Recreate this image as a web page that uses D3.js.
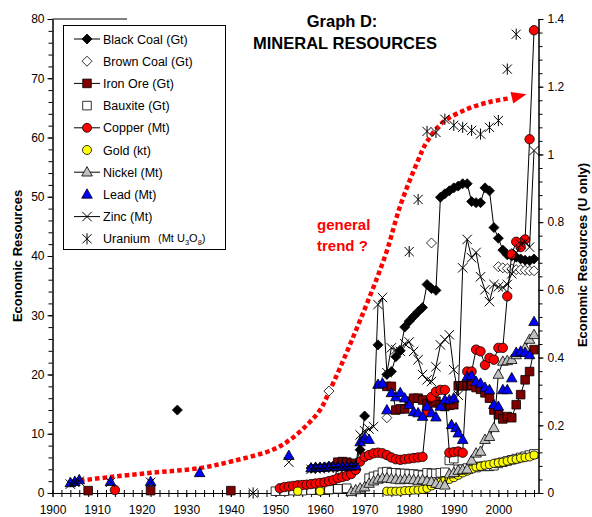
<!DOCTYPE html>
<html><head><meta charset="utf-8">
<script src="https://cdn.jsdelivr.net/npm/d3@7"></script>
<style>
html,body{margin:0;padding:0;background:#fff;}
svg text{font-family:Arial,"Liberation Sans",sans-serif;}
</style></head>
<body>
<svg id="chart" width="592" height="517"></svg>
<script>
// ---------------- DATA ----------------
const xTickLabels = [1900,1910,1920,1930,1940,1950,1960,1970,1980,1990,2000];
const yLeftTicks = [0,10,20,30,40,50,60,70,80];
const yRightTicks = [0,0.2,0.4,0.6,0.8,1,1.2,1.4];

const blackCoal = [[1928,14],
 [1958,4.2],[1959,4.3],[1960,4.3],[1961,4.4],[1962,4.5],[1963,4.6],[1964,4.7],[1965,4.8],[1966,4.8],[1967,4.9],[1968,5.0],
 [1969,7.3],[1970,13.0],[1973,25.0],
 [1975,20.0],[1976,20.5],[1977,23.0],[1978,24.0],[1979,28.0],[1980,29.0],[1981,29.8],[1982,30.6],[1983,31.3],
 [1984,35.2],[1985,34.5],[1986,34.2],[1987,49.9],[1988,50.5],[1989,51.0],[1990,51.5],[1991,51.8],[1992,52.2],[1993,52.2],
 [1994,49.2],[1995,49.0],[1996,49.0],[1997,51.5],[1998,51.0],[1999,44.8],[2000,43.0],[2001,41.0],[2002,40.2],
 [2003,40.0],[2004,39.8],[2005,39.5],[2006,39.3],[2007,39.2],[2008,39.5]];

const brownCoal = [[1962,17.2],[1975,12.7],[1985,42.2],
 [2000,38.2],[2001,38.0],[2002,37.9],[2003,37.8],[2004,37.7],[2005,37.7],[2006,37.6],[2007,37.5],[2008,37.5]];

const ironOre = [[1908,0.4],[1922,0.4],[1940,0.4],
 [1959,0.5],[1960,0.5],[1961,0.5],[1962,0.6],[1963,0.7],[1964,5.2],[1965,5.3],[1966,5.2],[1967,5.0],
 [1975,18.0],[1976,18.0],[1977,14.0],[1978,14.2],[1979,14.2],[1980,15.5],[1981,16.0],[1982,16.0],[1983,15.7],
 [1984,15.0],[1985,15.2],[1986,15.5],[1987,14.9],[1988,14.6],[1989,14.8],[1990,14.9],[1991,18.1],[1992,18.1],
 [1993,18.1],[1994,18.2],[1995,17.8],[1996,17.5],[1997,16.9],[1998,16.0],[1999,14.0],[2000,13.2],[2001,12.5],
 [2002,12.9],[2003,12.7],[2004,14.9],[2005,16.6],[2006,19.1],[2007,20.5],[2008,24.2]];

const bauxite = [[1950,0.3],[1952,0.3],[1954,0.4],[1956,0.4],[1958,0.5],[1960,0.5],[1962,0.6],[1964,0.7],[1966,0.8],
 [1971,2.5],[1972,2.8],[1973,3.0],[1974,3.5],[1975,3.6],[1976,3.4],[1977,3.4],[1978,3.3],[1979,3.3],[1980,3.2],
 [1981,3.2],[1982,3.1],[1983,3.0],[1984,3.4],[1985,3.3],[1986,3.3],[1987,3.4],[1988,3.5],[1989,5.5],[1990,5.8],
 [1991,4.0],[1992,4.0],[1993,4.2],[1994,4.3],[1995,4.3],[1996,4.5],[1997,4.5],[1998,4.5],[1999,4.6],[2000,5.0],
 [2001,5.2],[2002,5.4],[2003,5.6],[2004,5.8],[2005,6.0],[2006,6.2],[2007,6.4],[2008,6.6]];

const copper = [[1914,0.5],
 [1951,0.8],[1952,1.0],[1953,1.1],[1954,1.2],[1955,1.3],[1956,1.35],[1957,1.4],[1958,1.5],[1959,1.6],[1960,1.7],
 [1961,1.8],[1962,2.0],[1963,2.2],[1964,2.5],[1965,2.7],[1966,2.9],[1967,3.2],[1968,3.9],[1969,5.3],[1970,6.1],
 [1971,6.4],[1972,6.7],[1973,6.8],[1974,6.7],[1975,6.4],[1976,6.0],[1977,5.7],[1978,5.6],[1979,5.7],[1980,5.8],
 [1981,5.9],[1982,6.0],[1983,6.1],[1984,13.7],[1985,16.2],[1986,17.1],[1987,17.4],[1988,17.4],[1989,6.8],
 [1990,6.9],[1991,7.0],[1992,6.8],[1993,20.5],[1994,20.5],[1995,24.2],[1996,23.9],[1997,21.6],[1998,22.8],
 [1999,22.5],[2000,24.5],[2001,24.5],[2002,33.2],[2003,40.3],[2004,42.4],[2005,41.5],[2006,42.8],[2007,59.7],[2008,78.1]];

const gold = [[1955,0.3],[1960,0.3],[1975,0.3],[1976,0.3],[1977,0.3],[1978,0.3],[1979,0.4],[1980,0.4],[1981,0.5],
 [1982,0.5],[1983,0.6],[1984,0.8],[1985,1.2],[1986,1.5],[1987,1.8],[1988,2.1],[1989,2.3],[1990,2.6],[1991,3.0],
 [1992,3.4],[1993,3.7],[1994,4.0],[1995,4.4],[1996,4.5],[1997,4.7],[1998,4.8],[1999,5.0],[2000,5.1],[2001,5.2],
 [2002,5.4],[2003,5.6],[2004,5.7],[2005,5.9],[2006,6.0],[2007,6.1],[2008,6.4]];

const nickel = [[1967,0.2],[1968,0.5],[1969,0.8],[1970,1.0],[1971,1.6],[1972,2.0],[1973,2.3],[1974,2.5],[1975,2.5],
 [1976,2.4],[1977,2.3],[1978,2.2],[1979,2.3],[1980,2.3],[1981,2.2],[1982,2.1],[1983,2.2],[1984,2.0],[1985,1.9],
 [1986,1.6],[1987,1.4],[1988,1.3],[1989,3.2],[1990,3.4],[1991,3.8],[1992,3.9],[1993,4.0],[1994,5.5],[1995,6.7],
 [1996,7.0],[1997,9.0],[1998,9.5],[1999,11.0],[2000,20.0],[2001,22.2],[2002,22.3],[2003,22.5],[2004,23.3],
 [2005,23.7],[2006,24.5],[2007,25.9],[2008,26.7]];

const lead = [[1904,1.7],[1905,1.9],[1906,2.2],[1913,1.9],[1922,1.9],[1933,3.4],[1953,6.3],
 [1958,4.2],[1959,4.3],[1960,4.3],[1961,4.3],[1962,4.4],[1963,4.4],[1964,4.4],[1965,4.5],[1966,4.4],[1967,4.5],[1968,4.6],
 [1969,8.6],[1970,9.3],[1971,9.0],[1973,18.3],[1974,18.5],[1975,14.0],[1976,16.9],[1977,16.2],[1978,16.9],
 [1979,16.0],[1980,14.9],[1981,13.7],[1982,13.5],[1983,12.9],[1984,14.6],[1985,13.5],[1986,12.8],[1987,14.6],
 [1988,15.7],[1989,15.7],[1990,16.0],[1989.5,11.5],[1990.5,11.0],[1991,10.1],[1992,9.0],[1993,19.6],[1994,19.8],
 [1995,18.8],[1996,18.5],[1997,17.8],[1998,17.4],[1999,14.9],[2000,14.6],[2001,17.4],[2002,17.4],[2003,19.4],
 [2004,23.7],[2005,23.9],[2006,23.7],[2007,23.3],[2008,28.9]];

const zinc = [[1904,1.5],[1905,1.8],[1906,2.0],[1913,1.8],[1922,1.8],[1953,5.2],
 [1958,4.0],[1959,4.1],[1960,4.1],[1961,4.2],[1962,4.2],[1963,4.3],[1964,4.3],[1965,4.4],[1966,4.4],[1967,4.5],[1968,4.5],
 [1969,9.8],[1970,10.5],[1971,10.8],[1972,11.2],[1973,31.8],[1974,33.0],[1975,20.3],[1976,24.5],[1977,24.2],
 [1978,23.9],[1979,25.2],[1980,25.5],[1981,23.9],[1982,22.5],[1983,20.0],[1984,19.1],[1985,18.8],[1986,21.3],
 [1987,25.0],[1988,25.9],[1989,26.7],[1990,20.8],[1991,16.5],[1992,38.0],[1993,42.8],[1994,39.7],[1995,40.6],
 [1996,36.5],[1997,34.3],[1998,32.3],[1999,35.2],[2000,34.8],[2001,34.7],[2002,35.2],[2003,37.0],[2004,40.5],
 [2005,42.0],[2006,42.4],[2007,41.5],[2008,57.8]];

// Uranium on right axis (Mt U3O8)
const uranium = [[1945,0],[1980,0.713],[1982,0.867],[1984,1.068],[1986,1.065],[1988,1.104],[1990,1.086],
 [1992,1.080],[1994,1.071],[1996,1.060],[1998,1.080],[2000,1.100],[2002,1.252],[2004,1.355]];

// "general trend ?" annotation path (year, left-axis value)
const trend = [[1906.2,2.1],[1913,2.7],[1922,3.4],[1933,4.2],[1940.5,5.4],[1949.4,7.3],[1953.3,9.0],[1957.1,11.5],
 [1960,14.0],[1962,17.0],[1967.2,25.9],[1974.6,40.0],[1978,48.5],[1981.8,55.8],[1984,59.3],[1987.6,62.6],
 [1993,64.8],[1998.1,66.0],[2002.4,66.6]];
const trendTip = [2006.3,67.3];

const legendItems = [
 {name:"Black Coal (Gt)", sym:"diamond", fill:"#000", line:true},
 {name:"Brown Coal (Gt)", sym:"diamond", fill:"#fff", line:false},
 {name:"Iron Ore (Gt)", sym:"square", fill:"#800000", line:true},
 {name:"Bauxite (Gt)", sym:"square", fill:"#fff", line:false},
 {name:"Copper (Mt)", sym:"circle", fill:"#ff0000", line:true},
 {name:"Gold (kt)", sym:"circle", fill:"#ffff00", line:false},
 {name:"Nickel (Mt)", sym:"triangle", fill:"#c0c0c0", line:true},
 {name:"Lead (Mt)", sym:"triangle", fill:"#0000ff", line:false},
 {name:"Zinc (Mt)", sym:"cross", fill:"none", line:true},
 {name:"Uranium", sym:"asterisk", fill:"none", line:false}
];

// ---------------- CHART ----------------
const svg = d3.select("#chart");
const x = d3.scaleLinear().domain([1900, 2009]).range([52.5, 538.5]);
const yL = d3.scaleLinear().domain([0, 80]).range([493, 19]);
const yR = d3.scaleLinear().domain([0, 1.4]).range([493, 19]);

function symPath(type, cx, cy) {
  switch(type) {
    case "diamond": { const r=5; return `M${cx},${cy-r}L${cx+r},${cy}L${cx},${cy+r}L${cx-r},${cy}Z`; }
    case "square": { const r=4.3; return `M${cx-r},${cy-r}h${2*r}v${2*r}h${-2*r}Z`; }
    case "triangle": { return `M${cx},${cy-5.6}L${cx+5.3},${cy+3.8}L${cx-5.3},${cy+3.8}Z`; }
    case "cross": { const r=4.7; return `M${cx-r},${cy-r}L${cx+r},${cy+r}M${cx-r},${cy+r}L${cx+r},${cy-r}`; }
    case "asterisk": { const r=4.6; return `M${cx-r},${cy-r}L${cx+r},${cy+r}M${cx-r},${cy+r}L${cx+r},${cy-r}M${cx},${cy-5.6}L${cx},${cy+5.6}`; }
  }
}

// axes
const axesG = svg.append("g");
axesG.append("g").attr("transform","translate(52.5,0)")
  .call(d3.axisLeft(yL).tickValues(d3.range(0,81,2)).tickSize(4).tickFormat("").tickSizeOuter(0));
axesG.append("g").attr("transform","translate(52.5,0)")
  .call(d3.axisLeft(yL).tickValues(yLeftTicks).tickSize(5).tickPadding(3).tickSizeOuter(0));
axesG.append("g").attr("transform","translate(538.5,0)")
  .call(d3.axisRight(yR).tickValues(d3.range(0,1.401,0.04)).tickSize(4).tickFormat("").tickSizeOuter(0));
axesG.append("g").attr("transform","translate(538.5,0)")
  .call(d3.axisRight(yR).tickValues(yRightTicks).tickSize(5).tickPadding(4).tickFormat(d=>d3.format("~g")(d)).tickSizeOuter(0));
axesG.append("g").attr("transform","translate(0,493)")
  .call(d3.axisBottom(x).tickValues(d3.range(1900,2009,2)).tickSize(4).tickFormat("").tickSizeOuter(0));
axesG.append("g").attr("transform","translate(0,493)")
  .call(d3.axisTop(x).tickValues(d3.range(1900,2009,2)).tickSize(3).tickFormat("").tickSizeOuter(0));
axesG.append("g").attr("transform","translate(0,493)")
  .call(d3.axisBottom(x).tickValues(xTickLabels).tickSize(4).tickPadding(8).tickFormat(d3.format("d")).tickSizeOuter(0));
axesG.selectAll("path.domain").attr("stroke","#000").attr("stroke-width",1);
axesG.selectAll(".tick line").attr("stroke","#000");
axesG.selectAll("text").attr("font-size",12).attr("fill","#000");
svg.append("line").attr("x1",x(1900)).attr("x2",127).attr("y1",yL(80)).attr("y2",yL(80)).attr("stroke","#000");

// trend annotation
const trendLine = d3.line().x(d=>x(d[0])).y(d=>yL(d[1])).curve(d3.curveCatmullRom);
svg.append("path").datum(trend).attr("d",trendLine)
  .attr("fill","none").attr("stroke","#ff0000").attr("stroke-width",4.5).attr("stroke-dasharray","4.5,3");
{
  const p0 = trend[trend.length-1];
  const ax = x(p0[0]), ay = yL(p0[1]), tx = x(trendTip[0]), ty = yL(trendTip[1]);
  const dx = tx-ax, dy = ty-ay, L = Math.hypot(dx,dy), nx = -dy/L, ny = dx/L;
  const bx = tx - dx/L*15, by = ty - dy/L*15;
  svg.append("path").attr("d",`M${tx},${ty}L${bx+nx*6},${by+ny*6}L${bx-nx*6},${by-ny*6}Z`).attr("fill","#ff0000");
}
svg.append("text").attr("x",317).attr("y",230).attr("fill","#ff0000").attr("font-weight","bold").attr("font-size",15).text("general");
svg.append("text").attr("x",317).attr("y",251).attr("fill","#ff0000").attr("font-weight","bold").attr("font-size",15).text("trend ?");

function segments(data) {
  const segs=[]; let cur=[];
  data.forEach((d,i)=>{ if(i>0 && d[0]-data[i-1][0]>1.5){ segs.push(cur); cur=[]; } cur.push(d); });
  segs.push(cur); return segs.filter(s=>s.length>1);
}
function drawSeries(data, opt, yScale) {
  const g = svg.append("g");
  if (opt.line) {
    const ln = d3.line().x(d=>x(d[0])).y(d=>yScale(d[1]));
    segments(data).forEach(s=> g.append("path").attr("d",ln(s)).attr("fill","none").attr("stroke","#000").attr("stroke-width",1));
  }
  if (opt.sym==="circle") {
    g.selectAll("circle").data(data).join("circle")
      .attr("cx",d=>x(d[0])).attr("cy",d=>yScale(d[1])).attr("r",opt.r||4.3)
      .attr("fill",opt.fill).attr("stroke","#000").attr("stroke-width",0.8);
  } else {
    const lineOnly = opt.sym==="cross"||opt.sym==="asterisk";
    g.selectAll("path.m").data(data).join("path").attr("class","m")
      .attr("d",d=>symPath(opt.sym,x(d[0]),yScale(d[1])))
      .attr("fill",lineOnly?"none":opt.fill).attr("stroke","#000").attr("stroke-width",lineOnly?1:0.8);
  }
}
drawSeries(blackCoal,{sym:"diamond",fill:"#000",line:true},yL);
drawSeries(brownCoal,{sym:"diamond",fill:"#fff",line:false},yL);
drawSeries(ironOre,{sym:"square",fill:"#800000",line:true},yL);
drawSeries(bauxite,{sym:"square",fill:"#fff",line:false},yL);
drawSeries(copper,{sym:"circle",fill:"#ff0000",line:true,r:4.7},yL);
drawSeries(gold,{sym:"circle",fill:"#ffff00",line:false,r:4.1},yL);
drawSeries(nickel,{sym:"triangle",fill:"#c0c0c0",line:true},yL);
drawSeries(lead,{sym:"triangle",fill:"#0000ff",line:false},yL);
drawSeries(zinc,{sym:"cross",fill:"none",line:true},yL);
drawSeries(uranium,{sym:"asterisk",fill:"none",line:false},yR);

// legend
const lg = svg.append("g");
lg.append("rect").attr("x",63.5).attr("y",25.5).attr("width",162).attr("height",224)
  .attr("fill","#fff").attr("stroke","#000").attr("stroke-width",1);
legendItems.forEach((it,i)=>{
  const cy = 39 + i*22.2;
  if (it.line) lg.append("line").attr("x1",74).attr("x2",100).attr("y1",cy).attr("y2",cy).attr("stroke","#000");
  if (it.sym==="circle") lg.append("circle").attr("cx",87).attr("cy",cy).attr("r",4.5).attr("fill",it.fill).attr("stroke","#000").attr("stroke-width",0.8);
  else { const lo = it.sym==="cross"||it.sym==="asterisk";
    lg.append("path").attr("d",symPath(it.sym,87,cy)).attr("fill",lo?"none":it.fill).attr("stroke","#000").attr("stroke-width",lo?1:0.8); }
  lg.append("text").attr("x",103).attr("y",cy+4.5).attr("font-size",12.5).attr("fill","#000").text(it.name);
});
{
  const cy = 39 + 9*22.2;
  const t = lg.append("text").attr("x",158).attr("y",cy+3).attr("font-size",11).attr("fill","#000");
  t.append("tspan").text("(Mt U");
  t.append("tspan").attr("font-size",7.5).attr("dy",3).text("3");
  t.append("tspan").attr("dy",-3).text("O");
  t.append("tspan").attr("font-size",7.5).attr("dy",3).text("8");
  t.append("tspan").attr("dy",-3).text(")");
}

// titles
svg.append("text").attr("x",342).attr("y",27).attr("text-anchor","middle").attr("font-weight","bold").attr("font-size",16.5).text("Graph D:");
svg.append("text").attr("x",345).attr("y",49).attr("text-anchor","middle").attr("font-weight","bold").attr("font-size",16.5).text("MINERAL RESOURCES");
svg.append("text").attr("transform","translate(22,256) rotate(-90)").attr("text-anchor","middle")
  .attr("font-weight","bold").attr("font-size",13).text("Economic Resources");
svg.append("text").attr("transform","translate(587,255) rotate(-90)").attr("text-anchor","middle")
  .attr("font-weight","bold").attr("font-size",13).text("Economic Resources (U only)");
</script>
</body></html>
